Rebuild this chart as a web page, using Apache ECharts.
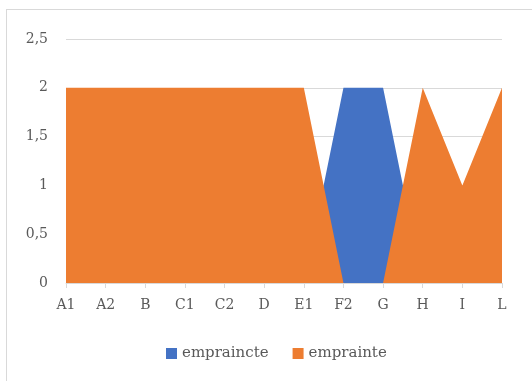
<!DOCTYPE html>
<html>
<head>
<meta charset="utf-8">
<script src="https://cdn.jsdelivr.net/npm/echarts@6/dist/echarts.min.js"></script>
<style>
  html, body { margin: 0; padding: 0; background: #fff; }
  #wrap { position: relative; width: 532px; height: 381px; overflow: hidden; }
  #frame { position: absolute; left: 6px; top: 9px; width: 600px; height: 500px; border: 1px solid #d9d9d9; }
  #areaChart { position: absolute; left: 0; top: 0; width: 532px; height: 381px; }
</style>
</head>
<body>
<div id="wrap">
  <div id="frame"></div>
  <div id="areaChart"></div>
</div>
<script>
var categories = ['A1', 'A2', 'B', 'C1', 'C2', 'D', 'E1', 'F2', 'G', 'H', 'I', 'L'];
var empraincte = [0, 0, 0, 0, 0, 0, 0, 2, 2, 0, 0, 0];
var emprainte = [2, 2, 2, 2, 2, 2, 2, 0, 0, 2, 1, 2];
var yTicks = [0, 0.5, 1, 1.5, 2, 2.5];

var areaChart = echarts.init(document.getElementById('areaChart'));
var font = 'DejaVu Serif';

var option = {
    animation: false,
    color: ['#4472C4', '#ED7D31'],
    grid: { left: 66, right: 30, top: 39, bottom: 98 },
    legend: {
        bottom: 15,
        left: 161,
        itemWidth: 11,
        itemHeight: 11,
        itemGap: 24,
        icon: 'rect',
        textStyle: { color: '#595959', fontFamily: font, fontSize: 15 },
        data: ['empraincte', 'emprainte']
    },
    xAxis: {
        type: 'category',
        data: categories,
        boundaryGap: false,
        axisLine: { lineStyle: { color: '#d9d9d9' } },
        axisTick: { show: true, alignWithLabel: true, length: 5, lineStyle: { color: '#d9d9d9' } },
        axisLabel: { color: '#595959', fontFamily: font, fontSize: 14, margin: 15 }
    },
    yAxis: {
        type: 'value',
        min: yTicks[0],
        max: yTicks[yTicks.length - 1],
        interval: 0.5,
        axisLine: { show: false },
        axisTick: { show: false },
        splitLine: { lineStyle: { color: '#d9d9d9' } },
        axisLabel: {
            color: '#595959', fontFamily: font, fontSize: 14, margin: 18,
            formatter: function (v) { return String(v).replace('.', ','); }
        }
    },
    series: [
        {
            name: 'empraincte',
            type: 'line',
            data: empraincte,
            symbol: 'none',
            lineStyle: { width: 0 },
            areaStyle: { color: '#4472C4', opacity: 1 }
        },
        {
            name: 'emprainte',
            type: 'line',
            data: emprainte,
            symbol: 'none',
            lineStyle: { width: 0 },
            areaStyle: { color: '#ED7D31', opacity: 1 }
        }
    ]
};
areaChart.setOption(option);
</script>
</body>
</html>
